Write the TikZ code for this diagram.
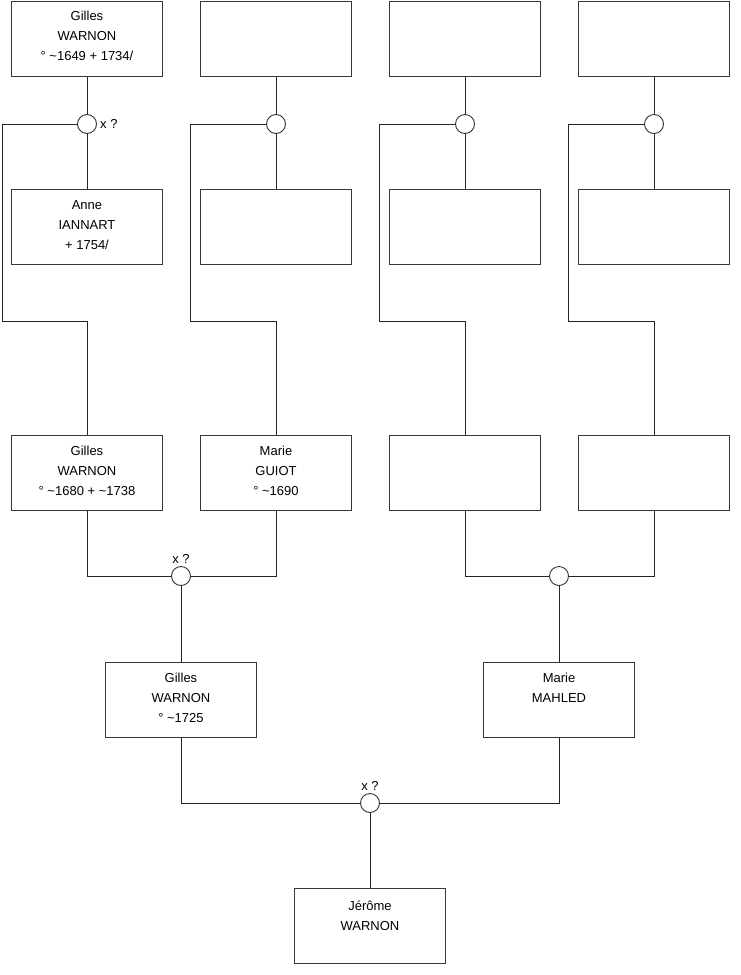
\documentclass[tikz,border=0pt]{standalone}
\usepackage{fontspec}
\setmainfont{Liberation Sans}
\newcommand{\tld}{\char"007E\relax}
\begin{document}
\begin{tikzpicture}[x=1pt,y=-1pt,
  box/.style={draw=black!78, line width=1pt, minimum width=151pt, minimum height=75pt, inner sep=0pt, anchor=north west},
  txt/.style={anchor=base, inner sep=0pt, font=\fontsize{13}{20}\selectfont},
  mar/.style={circle, draw=black!80, fill=white, line width=0.9pt, minimum size=19pt, inner sep=0pt},
  lnk/.style={draw=black!85, line width=0.9pt},
  lab/.style={inner sep=0pt, font=\fontsize{13}{15}\selectfont}]
\useasboundingbox (0,0) rectangle (740,975);
\newcommand{\lines}[1]{\begin{tabular}[t]{@{}c@{}}#1\end{tabular}}
% row 1
\node[box] (b11) at (11,1) {};
\node[box] (b12) at (200,1) {};
\node[box] (b13) at (389,1) {};
\node[box] (b14) at (578,1) {};
% row 2
\node[box] (b21) at (11,189) {};
\node[box] (b22) at (200,189) {};
\node[box] (b23) at (389,189) {};
\node[box] (b24) at (578,189) {};
% row 3
\node[box] (b31) at (11,435) {};
\node[box] (b32) at (200,435) {};
\node[box] (b33) at (389,435) {};
\node[box] (b34) at (578,435) {};
% row 4
\node[box] (b41) at (105,662) {};
\node[box] (b42) at (483,662) {};
% row 5
\node[box] (b5) at (294,888) {};
% texts
\node[txt] (t11) at ([yshift=-19.5pt]b11.north) {\lines{Gilles\\WARNON\\° \tld1649 + 1734/}};
\node[txt] (t21) at ([yshift=-20pt]b21.north) {\lines{Anne\\IANNART\\+ 1754/}};
\node[txt] (t31) at ([yshift=-20pt]b31.north) {\lines{Gilles\\WARNON\\° \tld1680 + \tld1738}};
\node[txt] (t32) at ([yshift=-20pt]b32.north) {\lines{Marie\\GUIOT\\° \tld1690}};
\node[txt] (t41) at ([yshift=-20pt]b41.north) {\lines{Gilles\\WARNON\\° \tld1725}};
\node[txt] (t42) at ([yshift=-20pt]b42.north) {\lines{Marie\\MAHLED}};
\node[txt] (t5) at ([yshift=-22pt]b5.north) {\lines{Jérôme\\WARNON}};
% marriage circles
\node[mar] (m1) at (87,124) {};
\node[mar] (m2) at (276,124) {};
\node[mar] (m3) at (465,124) {};
\node[mar] (m4) at (654,124) {};
\node[mar] (m5) at (181,576) {};
\node[mar] (m6) at (559,576) {};
\node[mar] (m7) at (370,803) {};
% bend points
\coordinate (k1) at (2,321);
\coordinate (k2) at (190,321);
\coordinate (k3) at (379,321);
\coordinate (k4) at (568,321);
% connectors
\draw[lnk] (b11.south) -- (m1.north) (m1.south) -- (b21.north);
\draw[lnk] (b12.south) -- (m2.north) (m2.south) -- (b22.north);
\draw[lnk] (b13.south) -- (m3.north) (m3.south) -- (b23.north);
\draw[lnk] (b14.south) -- (m4.north) (m4.south) -- (b24.north);
\draw[lnk] (m1.west) -| (k1) -| (b31.north);
\draw[lnk] (m2.west) -| (k2) -| (b32.north);
\draw[lnk] (m3.west) -| (k3) -| (b33.north);
\draw[lnk] (m4.west) -| (k4) -| (b34.north);
\draw[lnk] (b31.south) |- (m5.west);
\draw[lnk] (b32.south) |- (m5.east);
\draw[lnk] (m5.south) -- (b41.north);
\draw[lnk] (b33.south) |- (m6.west);
\draw[lnk] (b34.south) |- (m6.east);
\draw[lnk] (m6.south) -- (b42.north);
\draw[lnk] (b41.south) |- (m7.west);
\draw[lnk] (b42.south) |- (m7.east);
\draw[lnk] (m7.south) -- (b5.north);
% labels
\node[lab, anchor=base west] (x1) at (100,128) {x ?};
\node[lab, anchor=base] (x5) at (181,563) {x ?};
\node[lab, anchor=base] (x7) at (370,790) {x ?};
\end{tikzpicture}
\end{document}
